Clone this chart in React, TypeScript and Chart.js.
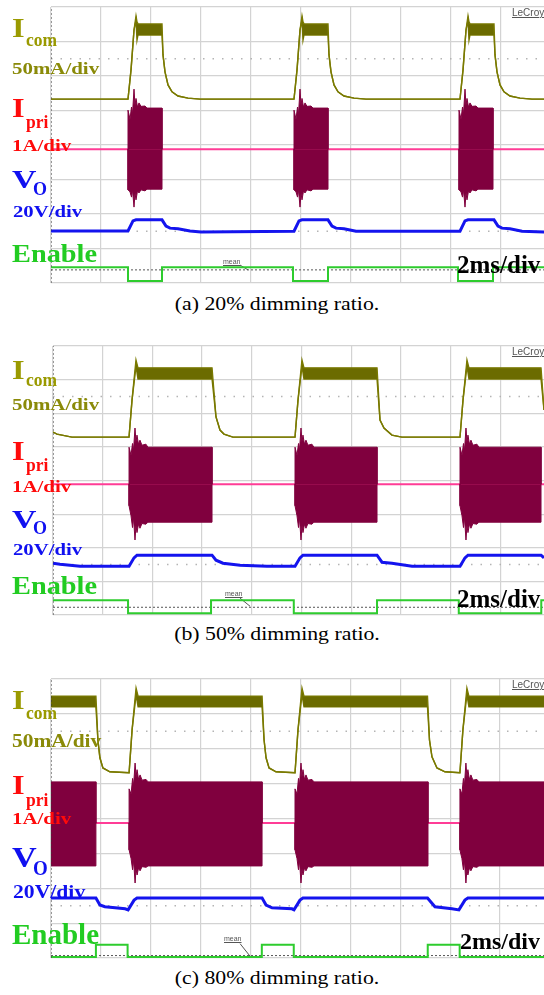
import React, { useEffect, useRef } from "react";
import { Chart, registerables } from "chart.js";

Chart.register(...registerables);

type P = [number, number];

// ---------- shared axes (x: time in ms, 2 ms/div; y: screen divisions) ----------
const X_GRID = [0, 2, 4, 6, 8, 10, 12, 14, 16, 18];
const Y_GRID = [-4, -3, -2, -1, 0, 1, 2, 3, 4];
const Y_DOTTED = [2.5, -2.5];
const X_END = 20;

// ---------- (a) 20% dimming ----------
const A_ICOM_HI: P[] = [
  [0, 1.33], [3.08, 1.33], [3.2, 2.17], [3.32, 3.33], [3.4, 3.74], [3.44, 3.57], [3.48, 3.51], [4.44, 3.51],
  [4.48, 2.61], [4.56, 2.12], [4.68, 1.74], [4.84, 1.54], [5.08, 1.42], [5.48, 1.36], [5.96, 1.33],
  [9.72, 1.33], [9.84, 2.17], [9.96, 3.33], [10.04, 3.74], [10.08, 3.57], [10.12, 3.51], [11.08, 3.51],
  [11.12, 2.61], [11.2, 2.12], [11.32, 1.74], [11.48, 1.54], [11.72, 1.42], [12.12, 1.36], [12.6, 1.33],
  [16.36, 1.33], [16.48, 2.17], [16.6, 3.33], [16.68, 3.74], [16.72, 3.57], [16.76, 3.51], [17.72, 3.51],
  [17.76, 2.61], [17.84, 2.12], [17.96, 1.74], [18.12, 1.54], [18.36, 1.42], [18.76, 1.36], [19.24, 1.33], [19.8, 1.33],
];
const A_ICOM_LO: P[] = [
  [0, 1.33], [3.08, 1.33], [3.2, 2.17], [3.32, 3.33], [3.4, 3.62], [3.44, 3.04], [3.48, 3.19], [4.44, 3.19],
  [4.48, 2.61], [4.56, 2.12], [4.68, 1.74], [4.84, 1.54], [5.08, 1.42], [5.48, 1.36], [5.96, 1.33],
  [9.72, 1.33], [9.84, 2.17], [9.96, 3.33], [10.04, 3.62], [10.08, 3.04], [10.12, 3.19], [11.08, 3.19],
  [11.12, 2.61], [11.2, 2.12], [11.32, 1.74], [11.48, 1.54], [11.72, 1.42], [12.12, 1.36], [12.6, 1.33],
  [16.36, 1.33], [16.48, 2.17], [16.6, 3.33], [16.68, 3.62], [16.72, 3.04], [16.76, 3.19], [17.72, 3.19],
  [17.76, 2.61], [17.84, 2.12], [17.96, 1.74], [18.12, 1.54], [18.36, 1.42], [18.76, 1.36], [19.24, 1.33], [19.8, 1.33],
];
const A_IPRI_BASE = -0.12;
const A_IPRI_HI: P[] = [
  [0, -0.12], [3.08, -0.12], [3.08, 1.01], [3.16, 0.75], [3.22, 1.1], [3.26, 0.9], [3.32, 1.62], [3.36, 1.15],
  [3.4, 1.35], [3.46, 1.1], [3.52, 1.22], [3.6, 1.12], [3.76, 1.13], [3.84, 1.07], [4.44, 1.07], [4.44, -0.12],
  [9.72, -0.12], [9.72, 1.01], [9.8, 0.75], [9.86, 1.1], [9.9, 0.9], [9.96, 1.62], [10.0, 1.15],
  [10.04, 1.35], [10.1, 1.1], [10.16, 1.22], [10.24, 1.12], [10.4, 1.13], [10.48, 1.07], [11.08, 1.07], [11.08, -0.12],
  [16.32, -0.12], [16.32, 1.01], [16.4, 0.75], [16.46, 1.1], [16.5, 0.9], [16.56, 1.62], [16.6, 1.15],
  [16.64, 1.35], [16.7, 1.1], [16.76, 1.22], [16.84, 1.12], [17.0, 1.13], [17.08, 1.07], [17.68, 1.07], [17.68, -0.12],
  [19.8, -0.12],
];
const A_IPRI_LO: P[] = [
  [0, -0.12], [3.08, -0.12], [3.08, -1.3], [3.16, -1.36], [3.22, -1.51], [3.26, -1.3], [3.32, -1.8], [3.36, -1.4],
  [3.4, -1.59], [3.46, -1.33], [3.52, -1.39], [3.6, -1.3], [3.76, -1.33], [3.84, -1.28], [4.44, -1.28], [4.44, -0.12],
  [9.72, -0.12], [9.72, -1.3], [9.8, -1.36], [9.86, -1.51], [9.9, -1.3], [9.96, -1.8], [10.0, -1.4],
  [10.04, -1.59], [10.1, -1.33], [10.16, -1.39], [10.24, -1.3], [10.4, -1.33], [10.48, -1.28], [11.08, -1.28], [11.08, -0.12],
  [16.32, -0.12], [16.32, -1.3], [16.4, -1.36], [16.46, -1.51], [16.5, -1.3], [16.56, -1.8], [16.6, -1.4],
  [16.64, -1.59], [16.7, -1.33], [16.76, -1.39], [16.84, -1.3], [17.0, -1.33], [17.08, -1.28], [17.68, -1.28], [17.68, -0.12],
  [19.8, -0.12],
];
const A_VO: P[] = [
  [0, -2.49], [3.08, -2.49], [3.28, -2.2], [3.4, -2.17], [4.44, -2.17], [4.6, -2.35], [4.76, -2.41], [5.08, -2.43],
  [5.56, -2.49], [6.0, -2.52], [9.72, -2.5], [9.92, -2.2], [10.04, -2.17], [11.08, -2.17], [11.24, -2.35],
  [11.4, -2.41], [11.72, -2.43], [12.2, -2.5], [16.36, -2.5], [16.56, -2.2], [16.68, -2.17], [17.72, -2.17],
  [17.88, -2.35], [18.04, -2.41], [18.36, -2.43], [18.84, -2.5], [19.8, -2.52],
];
const A_EN: P[] = [
  [0, -3.54], [3.08, -3.54], [3.08, -3.94], [4.44, -3.94], [4.44, -3.54], [9.68, -3.54], [9.68, -3.94],
  [11.08, -3.94], [11.08, -3.54], [16.28, -3.54], [16.28, -3.94], [17.68, -3.94], [17.68, -3.54], [19.8, -3.54],
];
const A_MEAN = -3.62;
const A_MEAN_PTR: P[] = [[7.56, -3.48], [7.88, -3.62]];

// ---------- (b) 50% dimming ----------
const B_ICOM_HI: P[] = [
  [0, 1.44], [0.16, 1.38], [0.76, 1.29], [3.06, 1.29], [3.18, 2.39], [3.34, 3.58], [3.42, 3.35], [6.4, 3.35],
  [6.56, 1.89], [6.72, 1.5], [6.88, 1.38], [7.24, 1.29],
  [9.74, 1.29], [9.86, 2.39], [10.02, 3.58], [10.1, 3.35], [13.04, 3.35], [13.16, 1.8], [13.32, 1.56], [13.64, 1.35], [14.04, 1.29],
  [16.38, 1.29], [16.5, 2.39], [16.66, 3.58], [16.74, 3.35], [19.64, 3.35], [19.76, 2.1], [19.8, 2.0],
];
const B_ICOM_LO: P[] = [
  [0, 1.44], [0.16, 1.38], [0.76, 1.29], [3.06, 1.29], [3.18, 2.39], [3.34, 3.4], [3.42, 3.02], [6.4, 3.02],
  [6.56, 1.89], [6.72, 1.5], [6.88, 1.38], [7.24, 1.29],
  [9.74, 1.29], [9.86, 2.39], [10.02, 3.4], [10.1, 3.02], [13.04, 3.02], [13.16, 1.8], [13.32, 1.56], [13.64, 1.35], [14.04, 1.29],
  [16.38, 1.29], [16.5, 2.39], [16.66, 3.4], [16.74, 3.02], [19.64, 3.02], [19.76, 2.1], [19.8, 2.0],
];
const B_IPRI_BASE = -0.11;
const B_IPRI_HI: P[] = [
  [0, -0.11], [3.06, -0.11], [3.06, 0.99], [3.14, 0.75], [3.2, 1.1], [3.24, 0.9], [3.3, 1.56], [3.34, 1.15],
  [3.38, 1.35], [3.44, 1.08], [3.5, 1.2], [3.58, 1.05], [3.74, 1.08], [3.82, 0.99], [6.4, 0.99], [6.4, -0.11],
  [9.74, -0.11], [9.74, 0.99], [9.82, 0.75], [9.88, 1.1], [9.92, 0.9], [9.98, 1.56], [10.02, 1.15],
  [10.06, 1.35], [10.12, 1.08], [10.18, 1.2], [10.26, 1.05], [10.42, 1.08], [10.5, 0.99], [13.04, 0.99], [13.04, -0.11],
  [16.38, -0.11], [16.38, 0.99], [16.46, 0.75], [16.52, 1.1], [16.56, 0.9], [16.62, 1.56], [16.66, 1.15],
  [16.7, 1.35], [16.76, 1.08], [16.82, 1.2], [16.9, 1.05], [17.06, 1.08], [17.14, 0.99], [19.64, 0.99], [19.64, -0.11],
  [19.8, -0.11],
];
const B_IPRI_LO: P[] = [
  [0, -0.11], [3.06, -0.11], [3.06, -0.75], [3.14, -1.05], [3.2, -1.4], [3.24, -1.1], [3.3, -1.77], [3.34, -1.33],
  [3.38, -1.55], [3.44, -1.3], [3.5, -1.42], [3.58, -1.28], [3.74, -1.3], [3.82, -1.24], [6.4, -1.24], [6.4, -0.11],
  [9.74, -0.11], [9.74, -0.75], [9.82, -1.05], [9.88, -1.4], [9.92, -1.1], [9.98, -1.77], [10.02, -1.33],
  [10.06, -1.55], [10.12, -1.3], [10.18, -1.42], [10.26, -1.28], [10.42, -1.3], [10.5, -1.24], [13.04, -1.24], [13.04, -0.11],
  [16.38, -0.11], [16.38, -0.75], [16.46, -1.05], [16.52, -1.4], [16.56, -1.1], [16.62, -1.77], [16.66, -1.33],
  [16.7, -1.55], [16.76, -1.3], [16.82, -1.42], [16.9, -1.28], [17.06, -1.3], [17.14, -1.24], [19.64, -1.24], [19.64, -0.11],
  [19.8, -0.11],
];
const B_VO: P[] = [
  [0, -2.46], [0.28, -2.49], [1.09, -2.55], [3.06, -2.55], [3.26, -2.3], [3.38, -2.22], [6.4, -2.22], [6.56, -2.37],
  [6.84, -2.46], [7.53, -2.52], [8.61, -2.55], [9.74, -2.55], [9.94, -2.3], [10.06, -2.22], [13.04, -2.22],
  [13.24, -2.43], [13.64, -2.46], [14.45, -2.55], [16.38, -2.55], [16.58, -2.3], [16.7, -2.22], [19.64, -2.22],
  [19.76, -2.3], [19.8, -2.32],
];
const B_EN: P[] = [
  [0, -3.56], [3.02, -3.56], [3.02, -3.95], [6.36, -3.95], [6.36, -3.56], [9.69, -3.56], [9.69, -3.95],
  [13.04, -3.95], [13.04, -3.56], [16.33, -3.56], [16.33, -3.95], [19.65, -3.95], [19.65, -3.56], [19.8, -3.56],
];
const B_MEAN = -3.77;
const B_MEAN_PTR: P[] = [[7.53, -3.5], [7.93, -3.74]];

// ---------- (c) 80% dimming ----------
const C_ICOM_HI: P[] = [
  [0, 3.51], [1.8, 3.51], [1.88, 2.25], [1.96, 1.74], [2.08, 1.45], [2.36, 1.34], [3.13, 1.31], [3.25, 2.54],
  [3.41, 3.74], [3.49, 3.51], [8.46, 3.51], [8.54, 2.25], [8.62, 1.74], [8.74, 1.45], [9.02, 1.34], [9.78, 1.31],
  [9.9, 2.54], [10.06, 3.74], [10.14, 3.51], [15.09, 3.51], [15.17, 2.25], [15.27, 1.77], [15.47, 1.45],
  [15.79, 1.34], [16.39, 1.31], [16.51, 2.54], [16.67, 3.74], [16.75, 3.51], [19.8, 3.51],
];
const C_ICOM_LO: P[] = [
  [0, 3.2], [1.8, 3.2], [1.88, 2.25], [1.96, 1.74], [2.08, 1.45], [2.36, 1.34], [3.13, 1.31], [3.25, 2.54],
  [3.41, 3.55], [3.49, 3.2], [8.46, 3.2], [8.54, 2.25], [8.62, 1.74], [8.74, 1.45], [9.02, 1.34], [9.78, 1.31],
  [9.9, 2.54], [10.06, 3.55], [10.14, 3.2], [15.09, 3.2], [15.17, 2.25], [15.27, 1.77], [15.47, 1.45],
  [15.79, 1.34], [16.39, 1.31], [16.51, 2.54], [16.67, 3.55], [16.75, 3.2], [19.8, 3.2],
];
const C_IPRI_BASE = -0.13;
const C_IPRI_HI: P[] = [
  [0, 1.05], [1.8, 1.05], [1.8, -0.13], [3.13, -0.13], [3.13, 0.85], [3.21, 0.7], [3.27, 1.15], [3.31, 0.95],
  [3.37, 1.59], [3.41, 1.2], [3.45, 1.4], [3.51, 1.12], [3.57, 1.25], [3.65, 1.1], [3.81, 1.12], [3.89, 1.05],
  [8.46, 1.05], [8.46, -0.13],
  [9.78, -0.13], [9.78, 0.85], [9.86, 0.7], [9.92, 1.15], [9.96, 0.95], [10.02, 1.59], [10.06, 1.2], [10.1, 1.4],
  [10.16, 1.12], [10.22, 1.25], [10.3, 1.1], [10.46, 1.12], [10.54, 1.05], [15.11, 1.05], [15.11, -0.13],
  [16.39, -0.13], [16.39, 0.85], [16.47, 0.7], [16.53, 1.15], [16.57, 0.95], [16.63, 1.59], [16.67, 1.2], [16.71, 1.4],
  [16.77, 1.12], [16.83, 1.25], [16.91, 1.1], [17.07, 1.12], [17.15, 1.05], [19.8, 1.05],
];
const C_IPRI_LO: P[] = [
  [0, -1.36], [1.8, -1.36], [1.8, -0.13], [3.13, -0.13], [3.13, -0.9], [3.21, -1.15], [3.27, -1.47], [3.31, -1.2],
  [3.37, -1.85], [3.41, -1.45], [3.45, -1.62], [3.51, -1.42], [3.57, -1.5], [3.65, -1.38], [3.81, -1.4], [3.89, -1.36],
  [8.46, -1.36], [8.46, -0.13],
  [9.78, -0.13], [9.78, -0.9], [9.86, -1.15], [9.92, -1.47], [9.96, -1.2], [10.02, -1.85], [10.06, -1.45], [10.1, -1.62],
  [10.16, -1.42], [10.22, -1.5], [10.3, -1.38], [10.46, -1.4], [10.54, -1.36], [15.11, -1.36], [15.11, -0.13],
  [16.39, -0.13], [16.39, -0.9], [16.47, -1.15], [16.53, -1.47], [16.57, -1.2], [16.63, -1.85], [16.67, -1.45], [16.71, -1.62],
  [16.77, -1.42], [16.83, -1.5], [16.91, -1.38], [17.07, -1.4], [17.15, -1.36], [19.8, -1.36],
];
const C_VO: P[] = [
  [0, -2.28], [1.8, -2.28], [1.96, -2.48], [2.16, -2.53], [2.57, -2.56], [2.97, -2.59], [3.09, -2.62], [3.33, -2.34],
  [3.45, -2.28], [8.46, -2.28], [8.62, -2.48], [8.86, -2.56], [9.66, -2.59], [9.74, -2.62], [9.98, -2.34],
  [10.1, -2.28], [15.09, -2.28], [15.39, -2.53], [16.07, -2.59], [16.35, -2.62], [16.59, -2.34], [16.71, -2.28], [19.8, -2.28],
];
const C_EN: P[] = [
  [0, -3.97], [1.8, -3.97], [1.8, -3.62], [3.07, -3.62], [3.07, -3.97], [8.45, -3.97], [8.45, -3.62], [9.73, -3.62],
  [9.73, -3.97], [15.1, -3.97], [15.1, -3.62], [16.38, -3.62], [16.38, -3.97], [19.8, -3.97],
];
const C_MEAN = -3.93;
const C_MEAN_PTR: P[] = [[7.58, -3.59], [7.98, -3.95]];

// ---------- texts ----------
const CAPTIONS = ["(a) 20% dimming ratio.", "(b) 50% dimming ratio.", "(c) 80% dimming ratio."];
const TIME_SCALE = "2ms/div";
const SCOPE_BRAND = "LeCroy";
const MEAN_TAG = "mean";

// ---------- styling ----------
const GRID = "#d3d3d3";
const COL_ICOM = "#7a7a00";
const COL_ICOM_BAND = "#6b6b00";
const COL_IPRI = "#80003e";
const COL_PINK = "#ff3c96";
const COL_VO = "#1414ee";
const COL_EN = "#2ecc2e";
const LBL_OLIVE = "#9a9a00";
const LBL_OLIVE2 = "#8a8a08";
const LBL_RED = "#ff0a0a";
const LBL_BLUE = "#1010f0";
const LBL_GREEN = "#22cc22";

interface PanelData {
  icomHi: P[]; icomLo: P[]; ipriBase: number; ipriHi: P[]; ipriLo: P[];
  vo: P[]; en: P[]; mean: number; meanPtr: P[];
}
interface PanelLayout { top: number; height: number; padLeft: number; xMax: number; }

const PANELS: { data: PanelData; layout: PanelLayout }[] = [
  { data: { icomHi: A_ICOM_HI, icomLo: A_ICOM_LO, ipriBase: A_IPRI_BASE, ipriHi: A_IPRI_HI, ipriLo: A_IPRI_LO, vo: A_VO, en: A_EN, mean: A_MEAN, meanPtr: A_MEAN_PTR },
    layout: { top: 5, height: 280, padLeft: 51, xMax: 19.72 } },
  { data: { icomHi: B_ICOM_HI, icomLo: B_ICOM_LO, ipriBase: B_IPRI_BASE, ipriHi: B_IPRI_HI, ipriLo: B_IPRI_LO, vo: B_VO, en: B_EN, mean: B_MEAN, meanPtr: B_MEAN_PTR },
    layout: { top: 344, height: 273, padLeft: 53, xMax: 19.76 } },
  { data: { icomHi: C_ICOM_HI, icomLo: C_ICOM_LO, ipriBase: C_IPRI_BASE, ipriHi: C_IPRI_HI, ipriLo: C_IPRI_LO, vo: C_VO, en: C_EN, mean: C_MEAN, meanPtr: C_MEAN_PTR },
    layout: { top: 677, height: 283, padLeft: 51, xMax: 19.76 } },
];

function ds(data: P[], color: string, width: number, extra: any = {}) {
  return {
    data: data.map(([x, y]) => ({ x, y })),
    borderColor: color,
    backgroundColor: color,
    borderWidth: width,
    pointRadius: 0,
    fill: false,
    tension: 0,
    ...extra,
  };
}

// burst envelope: hide the outline where it runs along the idle baseline
function burstSegment(base: number) {
  return {
    borderColor: (ctx: any) =>
      Math.abs(ctx.p0.parsed.y - base) < 1e-6 && Math.abs(ctx.p1.parsed.y - base) < 1e-6 ? "rgba(0,0,0,0)" : COL_IPRI,
  };
}

function buildDatasets(d: PanelData) {
  return [
    ds([[0, -4], [0, 4]], "#3a3a3a", 1, { borderDash: [2, 2] }),
    ds(d.icomHi, COL_ICOM, 1.4, { fill: "+1", backgroundColor: COL_ICOM_BAND }),
    ds(d.icomLo, COL_ICOM, 1.4),
    ds(d.vo, COL_VO, 3),
    ds(d.en, COL_EN, 2),
    ds([[0, d.mean], [X_END, d.mean]], "#555555", 1, { borderDash: [2, 2] }),
    ds(d.meanPtr, "#555555", 1),
    ds(d.ipriHi, COL_IPRI, 1, { fill: { value: d.ipriBase }, backgroundColor: COL_IPRI, segment: burstSegment(d.ipriBase) }),
    ds(d.ipriLo, COL_IPRI, 1, { fill: { value: d.ipriBase }, backgroundColor: COL_IPRI, segment: burstSegment(d.ipriBase) }),
    ds([[0, d.ipriBase], [X_END, d.ipriBase]], COL_PINK, 2),
    ...Y_DOTTED.map((v) => ds([[0, v], [X_END, v]], "#b4b4b4", 1.5, { borderDash: [1.5, 8] })),
  ];
}

function ScopePanel({ data, layout }: { data: PanelData; layout: PanelLayout }) {
  const ref = useRef<HTMLCanvasElement>(null);
  useEffect(() => {
    const chart = new Chart(ref.current as HTMLCanvasElement, {
      type: "line",
      data: { datasets: buildDatasets(data) as any },
      options: {
        responsive: false,
        animation: false,
        events: [],
        layout: { padding: { left: layout.padLeft, right: 0, top: 2, bottom: 2 } },
        plugins: { legend: { display: false }, tooltip: { enabled: false } },
        scales: {
          x: {
            type: "linear",
            min: 0,
            max: layout.xMax,
            afterBuildTicks: (s: any) => { s.ticks = X_GRID.map((v) => ({ value: v })); },
            ticks: { display: false },
            grid: { color: GRID, lineWidth: 1.2, drawTicks: false },
            border: { display: false },
          },
          y: {
            type: "linear",
            min: -4,
            max: 4,
            afterBuildTicks: (s: any) => { s.ticks = Y_GRID.map((v) => ({ value: v })); },
            ticks: { display: false },
            grid: { color: GRID, lineWidth: 1.2, drawTicks: false },
            border: { display: false },
          },
        },
      } as any,
    });
    return () => chart.destroy();
  }, []);
  return (
    <canvas
      ref={ref}
      width={544}
      height={layout.height}
      style={{ position: "absolute", left: 0, top: layout.top, width: 544, height: layout.height }}
    />
  );
}

const SERIF = '"Liberation Serif", "Times New Roman", serif';
const SANS = '"Liberation Sans", Arial, sans-serif';

function T(props: { x: number; y: number; s: number; c: string; sx?: number; w?: number; f?: string; u?: boolean; children: React.ReactNode }) {
  const { x, y, s, c, sx = 1, w = 700, f = SERIF, u = false, children } = props;
  return (
    <div
      style={{
        position: "absolute", left: x, top: y, fontFamily: f, fontWeight: w, fontSize: s, lineHeight: 1,
        color: c, whiteSpace: "nowrap", transform: `scaleX(${sx})`, transformOrigin: "left top",
        textDecoration: u ? "underline" : "none",
      }}
    >
      {children}
    </div>
  );
}

// label placement per panel (page coordinates)
const LABEL_POS = [
  { iTop: 15.3, comTop: 30, maTop: 60, ma: [17, 1.23], pTop: 95.3, priTop: 112, aTop: 137, vTop: 166.5, v: [26, 1.3], oTop: 180, o: [18, 1.0], vdTop: 203, vd: [17, 1.22], enTop: 240.5, en: [26, 1.09], tX: 457, tTop: 251.6, t: 25, lcTop: 8, meanX: 223, meanTop: 258, capTop: 295.3 },
  { iTop: 357.3, comTop: 370, maTop: 396, ma: [17, 1.23], pTop: 438.3, priTop: 455, aTop: 478, vTop: 506.5, v: [26, 1.3], oTop: 519, o: [18, 1.0], vdTop: 541, vd: [17, 1.22], enTop: 572.5, en: [26, 1.09], tX: 457, tTop: 585.6, t: 25, lcTop: 347, meanX: 225, meanTop: 590, capTop: 625.3 },
  { iTop: 687.3, comTop: 703, maTop: 732, ma: [18, 1.19], pTop: 772.3, priTop: 790, aTop: 810, vTop: 842.8, v: [29, 1.18], oTop: 858.3, o: [20, 0.95], vdTop: 881.7, vd: [19, 1.14], enTop: 920, en: [29, 1.0], tX: 460, tTop: 928.8, t: 24, lcTop: 680, meanX: 224, meanTop: 935, capTop: 969.3 },
];

function Labels({ i }: { i: number }) {
  const p = LABEL_POS[i];
  return (
    <>
      <T x={12} y={p.iTop} s={27} c={LBL_OLIVE} sx={1.2}>I</T>
      <T x={26} y={p.comTop} s={19} c={LBL_OLIVE} sx={0.92}>com</T>
      <T x={12} y={p.maTop} s={p.ma[0]} c={LBL_OLIVE2} sx={p.ma[1]}>50mA/div</T>
      <T x={12} y={p.pTop} s={27} c={LBL_RED} sx={1.2}>I</T>
      <T x={26} y={p.priTop} s={19} c={LBL_RED} sx={0.92}>pri</T>
      <T x={12} y={p.aTop} s={17} c={LBL_RED} sx={1.23}>1A/div</T>
      <T x={12} y={p.vTop} s={p.v[0]} c={LBL_BLUE} sx={p.v[1]}>V</T>
      <T x={33} y={p.oTop} s={p.o[0]} c={LBL_BLUE} sx={p.o[1]}>O</T>
      <T x={13} y={p.vdTop} s={p.vd[0]} c={LBL_BLUE} sx={p.vd[1]}>20V/div</T>
      <T x={12} y={p.enTop} s={p.en[0]} c={LBL_GREEN} sx={p.en[1]}>Enable</T>
      <T x={p.tX} y={p.tTop} s={p.t} c="#000">{TIME_SCALE}</T>
      <T x={512} y={p.lcTop} s={10} c="#555" w={400} f={SANS} u>{SCOPE_BRAND}</T>
      <T x={p.meanX} y={p.meanTop} s={7} c="#555" w={400} f={SANS} u>{MEAN_TAG}</T>
      <div
        style={{
          position: "absolute", left: 0, top: p.capTop, width: 554, textAlign: "center", fontFamily: SERIF,
          fontSize: 18, lineHeight: 1, color: "#000", whiteSpace: "nowrap", transform: "scaleX(1.21)",
          transformOrigin: "277px top",
        }}
      >
        {CAPTIONS[i]}
      </div>
    </>
  );
}

export default function App() {
  return (
    <div style={{ position: "absolute", left: 0, top: 0, width: 544, height: 995, overflow: "hidden", background: "#fff" }}>
      {PANELS.map((p, i) => (
        <React.Fragment key={i}>
          <ScopePanel data={p.data} layout={p.layout} />
          <Labels i={i} />
        </React.Fragment>
      ))}
    </div>
  );
}
